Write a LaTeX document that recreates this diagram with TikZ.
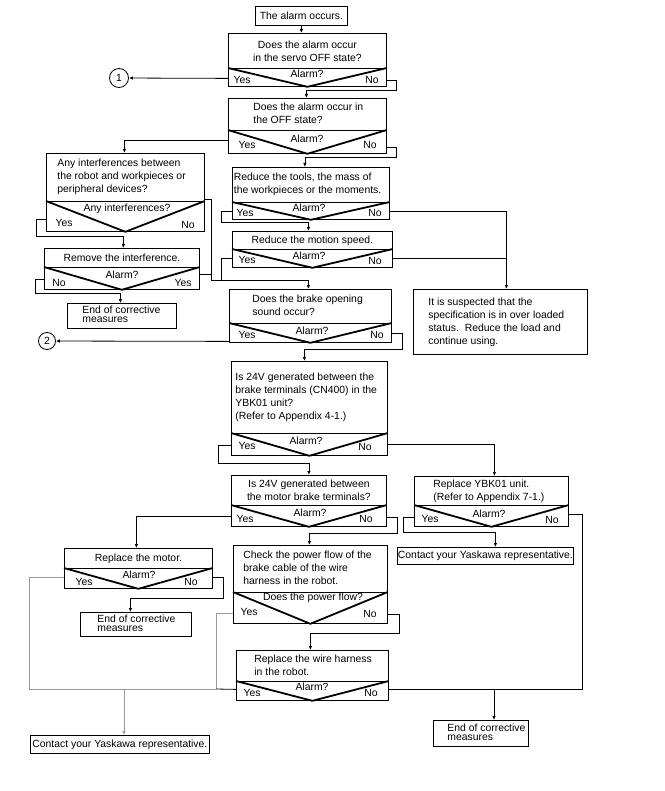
\documentclass[tikz,border=0pt]{standalone}
\usepackage{fontspec}
\setmainfont{Liberation Sans}
\usetikzlibrary{arrows.meta,calc}
\newcommand\ftxt{\fontsize{10.4}{13}\selectfont}
% left-aligned block of lines: width, left offset, lines
\newcommand\lbox[3]{\makebox[#1pt][l]{\hspace*{#2pt}\begin{tabular}[c]{@{}l@{}}#3\end{tabular}}}
\newcommand\lboxt[3]{\makebox[#1pt][l]{\hspace*{#2pt}\renewcommand\arraystretch{0.69}\begin{tabular}[c]{@{}l@{}}#3\end{tabular}}}
\begin{document}
\begin{tikzpicture}[x=1pt,y=-1pt,
  bx/.style={draw, rectangle, line width=0.8pt, inner sep=0pt, anchor=north west, font=\ftxt},
  lt/.style={bx},
  ctr/.style={bx, align=center},
  vb/.style={draw, rectangle, line width=0.8pt, inner sep=0pt, anchor=north west},
  vl/.style={line width=1.8pt, line join=round},
  lb/.style={inner sep=0pt, font=\ftxt},
  ln/.style={line width=0.8pt},
  arr/.style={ln, -{Latex[length=4pt,width=3.5pt]}},
  gln/.style={ln, draw=black!40},
  garr/.style={gln, -{Latex[length=4pt,width=3.5pt]}},
  crc/.style={circle, draw, line width=0.8pt, inner sep=0pt, font=\ftxt}]
\useasboundingbox[fill=white] (0,0) rectangle (664,791);

% A
\node[ctr, minimum width=92pt, minimum height=19pt] (A) at (255,6) {The alarm occurs.};
% B
\node[ctr, minimum width=158pt, minimum height=35pt] (B) at (228,33) {Does the alarm occur\\in the servo OFF state?};
\node[vb, minimum width=158pt, minimum height=18pt] (Bv) at (228,68) {};
\draw[vl] (Bv.north west) -- (Bv.south) -- (Bv.north east);
\node[lb] (Ba) at (307,74) {Alarm?};
\node[lb] (By) at (242,80) {Yes};
\node[lb] (Bn) at (372,80) {No};
\node[crc, minimum size=19pt] (c1) at (119,78) {1};
% C
\node[lt, minimum width=158pt, minimum height=32pt] (C) at (228,98) {\lbox{158}{25}{Does the alarm occur in\\the OFF state?}};
\node[vb, minimum width=158pt, minimum height=23pt] (Cv) at (228,130) {};
\draw[vl] (Cv.north west) -- (Cv.south) -- (Cv.north east);
\node[lb] (Ca) at (307,139) {Alarm?};
\node[lb] (Cy) at (247,145) {Yes};
\node[lb] (Cn) at (370,145) {No};
% D
\node[lt, minimum width=158pt, minimum height=48pt] (D) at (46,153) {\lbox{158}{11}{Any interferences between\\the robot and workpieces or\\peripheral devices?}};
\node[vb, minimum width=158pt, minimum height=30pt] (Dv) at (46,201) {};
\draw[vl] (Dv.north west) -- (Dv.south) -- (Dv.north east);
\node[lb] (Da) at (127,209) {Any interferences?};
\node[lb] (Dy) at (64,223) {Yes};
\node[lb] (Dn) at (188,225) {No};
% E
\node[lt, minimum width=157pt, minimum height=35pt] (E) at (232,167) {\lbox{157}{1.5}{Reduce the tools, the mass of\\the workpieces or the moments.}};
\node[vb, minimum width=157pt, minimum height=17pt] (Ev) at (232,202) {};
\draw[vl] (Ev.north west) -- (Ev.south) -- (Ev.north east);
\node[lb] (Ea) at (309,208) {Alarm?};
\node[lb] (Ey) at (245,213) {Yes};
\node[lb] (En) at (375,213) {No};
% F
\node[ctr, minimum width=160pt, minimum height=18pt] (F) at (232,231) {Reduce the motion speed.};
\node[vb, minimum width=160pt, minimum height=18pt] (Fv) at (232,249) {};
\draw[vl] (Fv.north west) -- (Fv.south) -- (Fv.north east);
\node[lb] (Fa) at (309,256) {Alarm?};
\node[lb] (Fy) at (247,260) {Yes};
\node[lb] (Fn) at (375,261) {No};
% G
\node[ctr, minimum width=155pt, minimum height=19pt] (G) at (44,248) {Remove the interference.};
\node[vb, minimum width=155pt, minimum height=22pt] (Gv) at (44,267) {};
\draw[vl] (Gv.north west) -- (Gv.south) -- (Gv.north east);
\node[lb] (Ga) at (122,275) {Alarm?};
\node[lb] (Gn) at (59,283) {No};
\node[lb] (Gy) at (183,283) {Yes};
% H
\node[lt, minimum width=109pt, minimum height=25pt] (H) at (67,303) {\lboxt{109}{15}{End of corrective\\measures}};
% I
\node[lt, minimum width=162pt, minimum height=34pt] (I) at (229,289) {\lbox{162}{23}{Does the brake opening\\sound occur?}};
\node[vb, minimum width=162pt, minimum height=19pt] (Iv) at (229,323) {};
\draw[vl] (Iv.north west) -- (Iv.south) -- (Iv.north east);
\node[lb] (Ia) at (312,331) {Alarm?};
\node[lb] (Iy) at (247,335) {Yes};
\node[lb] (In) at (377,335) {No};
\node[crc, minimum size=17pt] (c2) at (47,341) {2};
% J
\node[lt, minimum width=174pt, minimum height=65pt] (J) at (413,289) {\lbox{174}{15}{It is suspected that the\\specification is in over loaded\\status.\ \ Reduce the load and\\continue using.}};
% K
\node[lt, minimum width=156pt, minimum height=72pt] (K) at (231,361) {\lbox{156}{4}{Is 24V generated between the\\brake terminals (CN400) in the\\YBK01 unit?\\(Refer to Appendix 4-1.)}};
\node[vb, minimum width=156pt, minimum height=22pt] (Kv) at (231,433) {};
\draw[vl] (Kv.north west) -- (Kv.south) -- (Kv.north east);
\node[lb] (Ka) at (306,441) {Alarm?};
\node[lb] (Ky) at (247,446) {Yes};
\node[lb] (Kn) at (365,447) {No};
% L
\node[ctr, minimum width=155pt, minimum height=30pt] (L) at (231,475) {Is 24V generated between\\the motor brake terminals?};
\node[vb, minimum width=155pt, minimum height=21pt] (Lv) at (231,505) {};
\draw[vl] (Lv.north west) -- (Lv.south) -- (Lv.north east);
\node[lb] (La) at (310,513) {Alarm?};
\node[lb] (Ly) at (245,519) {Yes};
\node[lb] (Ln) at (366,519) {No};
% M
\node[lt, minimum width=154pt, minimum height=29pt] (M) at (414,476) {\lbox{154}{19}{Replace YBK01 unit.\\(Refer to Appendix 7-1.)}};
\node[vb, minimum width=154pt, minimum height=21pt] (Mv) at (414,505) {};
\draw[vl] (Mv.north west) -- (Mv.south) -- (Mv.north east);
\node[lb] (Ma) at (489,514) {Alarm?};
\node[lb] (My) at (430,519) {Yes};
\node[lb] (Mn) at (552,520) {No};
% N
\node[ctr, minimum width=176pt, minimum height=17pt] (N) at (397,547) {Contact your Yaskawa representative.};
% O
\node[ctr, minimum width=148pt, minimum height=20pt] (O) at (64,548) {Replace the motor.};
\node[vb, minimum width=148pt, minimum height=20pt] (Ov) at (64,568) {};
\draw[vl] (Ov.north west) -- (Ov.south) -- (Ov.north east);
\node[lb] (Oa) at (139,575) {Alarm?};
\node[lb] (Oy) at (84,582) {Yes};
\node[lb] (On) at (191,582) {No};
% H2
\node[lt, minimum width=111pt, minimum height=24pt] (H2) at (80,612) {\lboxt{111}{17}{End of corrective\\measures}};
% P
\node[lt, minimum width=154pt, minimum height=47pt] (P) at (233,545) {\lbox{154}{10}{Check the power flow of the\\brake cable of the wire\\harness in the robot.}};
\node[vb, minimum width=154pt, minimum height=31pt] (Pv) at (233,592) {};
\draw[vl] (Pv.north west) -- (Pv.south) -- (Pv.north east);
\node[lb] (Pa) at (313,598) {Does the power flow?};
\node[lb] (Py) at (249,612) {Yes};
\node[lb] (Pn) at (370,614) {No};
% Q
\node[lt, minimum width=152pt, minimum height=31pt] (Q) at (236,650) {\lbox{152}{18}{Replace the wire harness\\in the robot.}};
\node[vb, minimum width=152pt, minimum height=19pt] (Qv) at (236,681) {};
\draw[vl] (Qv.north west) -- (Qv.south) -- (Qv.north east);
\node[lb] (Qa) at (312,687) {Alarm?};
\node[lb] (Qy) at (252,693) {Yes};
\node[lb] (Qn) at (371,693) {No};
% R, S
\node[ctr, minimum width=179pt, minimum height=18pt] (R) at (30,735) {Contact your Yaskawa representative.};
\node[lt, minimum width=95pt, minimum height=26pt] (S) at (433,720) {\lboxt{95}{14}{End of corrective\\measures}};

% junctions
\coordinate (jD) at (211,280);
\coordinate (jJ) at (506,257);
\coordinate (jL) at (29,689);
\coordinate (jP) at (216,689);
\coordinate (jR) at (124,689);
\coordinate (jS) at (494,689);

% connectors
\draw[arr] (A.south) -- (A.south |- B.north);
\draw[arr] ([yshift=-1pt]Bv.west) -- (c1);
\draw[arr] ([yshift=-3pt]Bv.east) -- ++(10,0) -- ++(0,10) -| ([xshift=-1pt]C.north);
\draw[arr] ([yshift=1.5pt]Cv.west) -| ([xshift=-1pt]D.north);
\draw[arr] ([yshift=-5.5pt]Cv.east) -- ++(10,0) -- ++(0,10) -| ([xshift=-6pt]E.north);
\draw[arr] ([yshift=-3pt]Dv.west) -- ++(-10,0) -- ++(0,17) -| ([xshift=1.5pt]G.north);
\draw[arr] ([yshift=2pt]D.south east) -| (jD) -| ([xshift=-2pt]I.north);
\draw[arr] ([yshift=-0.5pt]Ev.east) -| ([xshift=6pt]J.north);
\draw[arr] ([yshift=-0.5pt]Ev.west) -- ++(-11,0) -- ++(0,11) -| ([xshift=-4pt]F.north);
\draw[ln] (Fv.west) -- ++(-11,0) -- ++(0,22);
\draw[ln] (Fv.east) -- (Fv.east -| jJ);
\draw[ln] ([yshift=4pt]Gv.east) -- ++(12,0);
\draw[arr] ([yshift=-1pt]Gv.west) -- ++(-9,0) -- ++(0,14) -| ([xshift=-1.5pt]H.north);
\draw[arr] ([yshift=-8.5pt]Iv.west) -- (c2);
\draw[arr] ([yshift=-0.5pt]Iv.east) -- ++(11,0) -- ++(0,16) -| ([xshift=-5pt]K.north);
\draw[arr] ([yshift=-1pt]Kv.west) -- ++(-13,0) -- ++(0,18) -| (L.north);
\draw[arr] (Kv.east) -| ([xshift=3pt]M.north);
\draw[arr] (Lv.west) -| ([xshift=-2pt]O.north);
\draw[arr] ([yshift=-1.5pt]Lv.east) -- ++(11,0) -- ++(0,16) -| ([xshift=-1pt]P.north);
\draw[arr] ([yshift=-1.5pt]Mv.west) -- ++(-11,0) -- ++(0,15) -| ([xshift=10pt]N.north);
\draw[ln] ([yshift=1.5pt]Mv.east) -- ++(14,0) |- ([yshift=1.5pt]Qv.east);
\draw[gln] ([yshift=1pt]Ov.west) -| (jL);
\draw[arr] ([yshift=1pt]Ov.east) -- ++(11,0) -- ++(0,21) -| ([xshift=-5.5pt]H2.north);
\draw[gln] ([yshift=-5.5pt]Pv.west) -| (jP);
\draw[arr] ([yshift=-6.5pt]Pv.east) -- ++(12,0) -- ++(0,19) -| ([xshift=-2pt]Q.north);
\draw[ln] ([yshift=1.5pt]Qv.west) -- (jP);
\draw[gln] (jP) -- (jL);
\draw[garr] (jR) -- (jR |- R.north);
\draw[arr] (jS) -- (jS |- S.north);
\end{tikzpicture}
\end{document}
